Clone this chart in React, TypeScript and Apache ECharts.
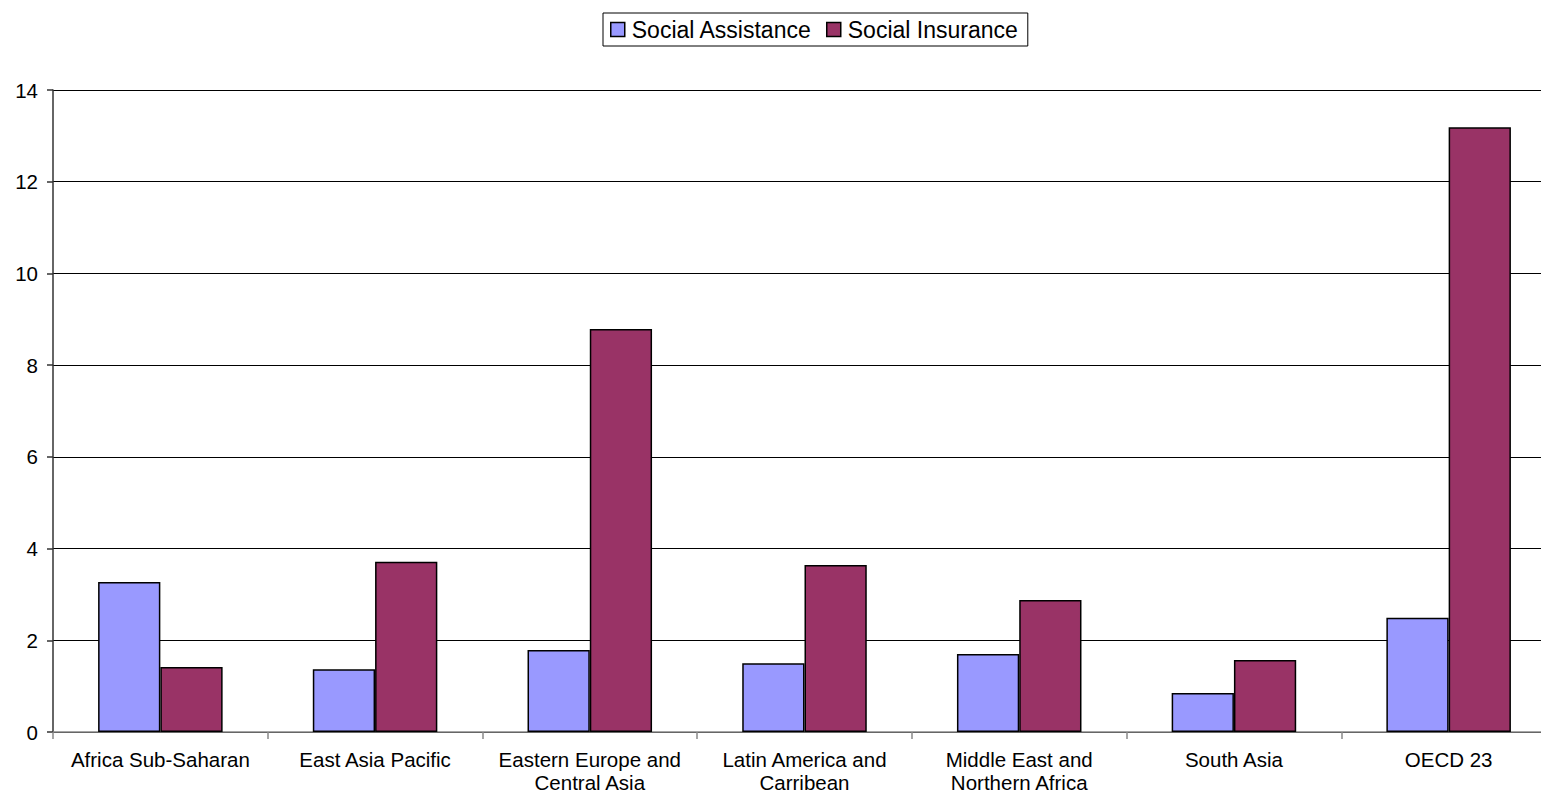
import React, { useEffect, useRef } from "react";
import * as echarts from "echarts";

const categories = [
  "Africa Sub-Saharan",
  "East Asia Pacific",
  "Eastern Europe and\nCentral Asia",
  "Latin America and\nCarribean",
  "Middle East and\nNorthern Africa",
  "South Asia",
  "OECD 23",
];
const socialAssistance = [3.27, 1.37, 1.79, 1.5, 1.7, 0.85, 2.49];
const socialInsurance = [1.42, 3.71, 8.79, 3.64, 2.88, 1.57, 13.19];

export default function App() {
  const ref = useRef<HTMLDivElement>(null);
  useEffect(() => {
    const chart = echarts.init(ref.current!, null, { renderer: "svg" });
    const font = "Liberation Sans, Arial, sans-serif";
    chart.setOption({
      animation: false,
      textStyle: { fontFamily: font },
      legend: {
        top: 13,
        left: 603,
        icon: "rect",
        itemWidth: 14,
        itemHeight: 14,
        itemGap: 14,
        padding: [5, 10, 5, 7],
        borderColor: "#000",
        borderWidth: 1,
        textStyle: { fontSize: 23, color: "#000", fontFamily: font, padding: [0, 0, 0, 2] },
        data: [
          { name: "Social Assistance", itemStyle: { color: "#9999FF", borderColor: "#000", borderWidth: 1.5 } },
          { name: "Social Insurance", itemStyle: { color: "#993366", borderColor: "#000", borderWidth: 1.5 } },
        ],
      },
      grid: {
        left: 53,
        top: 90,
        width: 1503,
        height: 642,
        containLabel: false,
        outerBoundsMode: "none",
      },
      xAxis: {
        type: "category",
        data: categories,
        axisLine: { lineStyle: { color: "#888", width: 1.5 } },
        axisTick: { show: true, length: 7, lineStyle: { color: "#888", width: 1.5 } },
        axisLabel: { interval: 0, fontSize: 20.5, color: "#000", margin: 16, lineHeight: 23, fontFamily: font },
      },
      yAxis: {
        type: "value",
        min: 0,
        max: 14,
        interval: 2,
        axisLine: { show: true, lineStyle: { color: "#333", width: 1.5 } },
        axisTick: { show: true, length: 6, lineStyle: { color: "#333", width: 1.5 } },
        splitLine: { lineStyle: { color: "#000", width: 1 } },
        axisLabel: { fontSize: 20.5, color: "#000", margin: 15, fontFamily: font },
      },
      series: [
        {
          name: "Social Assistance",
          type: "bar",
          data: socialAssistance,
          barGap: "0%",
          barCategoryGap: "42%",
          itemStyle: { color: "#9999FF", borderColor: "#000", borderWidth: 1.5 },
        },
        {
          name: "Social Insurance",
          type: "bar",
          data: socialInsurance,
          barGap: "0%",
          barCategoryGap: "42%",
          itemStyle: { color: "#993366", borderColor: "#000", borderWidth: 1.5 },
        },
      ],
    });
    return () => chart.dispose();
  }, []);
  return (
    <div
      ref={ref}
      style={{ position: "absolute", left: 0, top: 0, width: 1541, height: 795, background: "#fff", overflow: "hidden" }}
    />
  );
}
